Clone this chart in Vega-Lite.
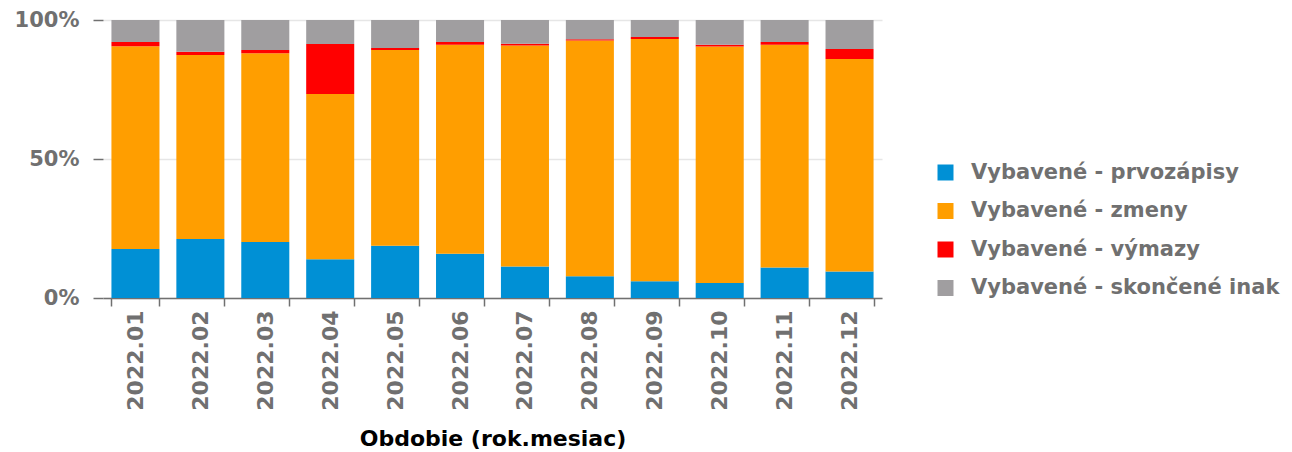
{
  "$schema": "https://vega.github.io/schema/vega-lite/v6.json",
  "width": 779,
  "height": 278,
  "autosize": {"type": "none"},
  "padding": {"left": 103, "top": 20, "right": 410, "bottom": 154},
  "background": "white",
  "config": {
    "view": {"stroke": null},
    "font": "DejaVu Sans"
  },
  "data": {
    "values": [
      {"m": "2022.01", "s": "Vybavené - prvozápisy", "k": 1, "v": 17.6},
      {"m": "2022.01", "s": "Vybavené - zmeny", "k": 2, "v": 73.0},
      {"m": "2022.01", "s": "Vybavené - výmazy", "k": 3, "v": 1.5},
      {"m": "2022.01", "s": "Vybavené - skončené inak", "k": 4, "v": 7.9},
      {"m": "2022.02", "s": "Vybavené - prvozápisy", "k": 1, "v": 21.2},
      {"m": "2022.02", "s": "Vybavené - zmeny", "k": 2, "v": 66.2},
      {"m": "2022.02", "s": "Vybavené - výmazy", "k": 3, "v": 1.2},
      {"m": "2022.02", "s": "Vybavené - skončené inak", "k": 4, "v": 11.4},
      {"m": "2022.03", "s": "Vybavené - prvozápisy", "k": 1, "v": 20.1},
      {"m": "2022.03", "s": "Vybavené - zmeny", "k": 2, "v": 67.9},
      {"m": "2022.03", "s": "Vybavené - výmazy", "k": 3, "v": 1.2},
      {"m": "2022.03", "s": "Vybavené - skončené inak", "k": 4, "v": 10.8},
      {"m": "2022.04", "s": "Vybavené - prvozápisy", "k": 1, "v": 13.9},
      {"m": "2022.04", "s": "Vybavené - zmeny", "k": 2, "v": 59.5},
      {"m": "2022.04", "s": "Vybavené - výmazy", "k": 3, "v": 18.0},
      {"m": "2022.04", "s": "Vybavené - skončené inak", "k": 4, "v": 8.6},
      {"m": "2022.05", "s": "Vybavené - prvozápisy", "k": 1, "v": 18.8},
      {"m": "2022.05", "s": "Vybavené - zmeny", "k": 2, "v": 70.4},
      {"m": "2022.05", "s": "Vybavené - výmazy", "k": 3, "v": 0.7},
      {"m": "2022.05", "s": "Vybavené - skončené inak", "k": 4, "v": 10.1},
      {"m": "2022.06", "s": "Vybavené - prvozápisy", "k": 1, "v": 15.9},
      {"m": "2022.06", "s": "Vybavené - zmeny", "k": 2, "v": 75.2},
      {"m": "2022.06", "s": "Vybavené - výmazy", "k": 3, "v": 1.0},
      {"m": "2022.06", "s": "Vybavené - skončené inak", "k": 4, "v": 7.9},
      {"m": "2022.07", "s": "Vybavené - prvozápisy", "k": 1, "v": 11.3},
      {"m": "2022.07", "s": "Vybavené - zmeny", "k": 2, "v": 79.5},
      {"m": "2022.07", "s": "Vybavené - výmazy", "k": 3, "v": 0.7},
      {"m": "2022.07", "s": "Vybavené - skončené inak", "k": 4, "v": 8.5},
      {"m": "2022.08", "s": "Vybavené - prvozápisy", "k": 1, "v": 7.8},
      {"m": "2022.08", "s": "Vybavené - zmeny", "k": 2, "v": 84.8},
      {"m": "2022.08", "s": "Vybavené - výmazy", "k": 3, "v": 0.5},
      {"m": "2022.08", "s": "Vybavené - skončené inak", "k": 4, "v": 6.9},
      {"m": "2022.09", "s": "Vybavené - prvozápisy", "k": 1, "v": 6.0},
      {"m": "2022.09", "s": "Vybavené - zmeny", "k": 2, "v": 87.2},
      {"m": "2022.09", "s": "Vybavené - výmazy", "k": 3, "v": 0.7},
      {"m": "2022.09", "s": "Vybavené - skončené inak", "k": 4, "v": 6.1},
      {"m": "2022.10", "s": "Vybavené - prvozápisy", "k": 1, "v": 5.4},
      {"m": "2022.10", "s": "Vybavené - zmeny", "k": 2, "v": 85.1},
      {"m": "2022.10", "s": "Vybavené - výmazy", "k": 3, "v": 0.6},
      {"m": "2022.10", "s": "Vybavené - skončené inak", "k": 4, "v": 8.9},
      {"m": "2022.11", "s": "Vybavené - prvozápisy", "k": 1, "v": 11.0},
      {"m": "2022.11", "s": "Vybavené - zmeny", "k": 2, "v": 80.1},
      {"m": "2022.11", "s": "Vybavené - výmazy", "k": 3, "v": 1.0},
      {"m": "2022.11", "s": "Vybavené - skončené inak", "k": 4, "v": 7.9},
      {"m": "2022.12", "s": "Vybavené - prvozápisy", "k": 1, "v": 9.5},
      {"m": "2022.12", "s": "Vybavené - zmeny", "k": 2, "v": 76.5},
      {"m": "2022.12", "s": "Vybavené - výmazy", "k": 3, "v": 3.6},
      {"m": "2022.12", "s": "Vybavené - skončené inak", "k": 4, "v": 10.4}
    ]
  },
  "mark": {"type": "bar"},
  "encoding": {
    "x": {
      "field": "m",
      "type": "ordinal",
      "scale": {"paddingInner": 0.26, "paddingOuter": 0.13},
      "axis": {
        "title": "Obdobie (rok.mesiac)",
        "titleFont": "DejaVu Sans",
        "titleFontSize": 22,
        "titleFontWeight": "bold",
        "titleColor": "#000000",
        "titlePadding": 18,
        "labelAngle": -90,
        "labelFont": "DejaVu Sans",
        "labelFontSize": 22,
        "labelFontWeight": "bold",
        "labelColor": "#707070",
        "labelPadding": 4,
        "tickBand": "extent",
        "tickSize": 8,
        "tickColor": "#707070",
        "tickWidth": 1.5,
        "domainColor": "#707070",
        "domainWidth": 1.5
      }
    },
    "y": {
      "field": "v",
      "type": "quantitative",
      "stack": "normalize",
      "axis": {
        "title": null,
        "values": [0, 0.5, 1],
        "format": ".0%",
        "labelFont": "DejaVu Sans",
        "labelFontSize": 21,
        "labelFontWeight": "bold",
        "labelColor": "#707070",
        "labelPadding": 14,
        "tickSize": 10,
        "tickColor": "#707070",
        "tickWidth": 1.5,
        "domain": false,
        "grid": true,
        "gridColor": "#e6e6e6",
        "gridWidth": 1.5
      }
    },
    "color": {
      "field": "s",
      "type": "nominal",
      "scale": {
        "domain": ["Vybavené - prvozápisy", "Vybavené - zmeny", "Vybavené - výmazy", "Vybavené - skončené inak"],
        "range": ["#0090d5", "#ff9e00", "#ff0000", "#a09ea0"]
      },
      "legend": {
        "title": null,
        "orient": "none",
        "legendX": 832,
        "legendY": 142,
        "padding": 0,
        "symbolType": "square",
        "symbolSize": 256,
        "symbolStrokeWidth": 0,
        "labelFont": "DejaVu Sans",
        "labelFontSize": 21,
        "labelFontWeight": "bold",
        "labelColor": "#707070",
        "labelOffset": 15,
        "rowPadding": 16.5,
        "labelLimit": 400
      }
    },
    "order": {"field": "k", "type": "quantitative"}
  }
}
